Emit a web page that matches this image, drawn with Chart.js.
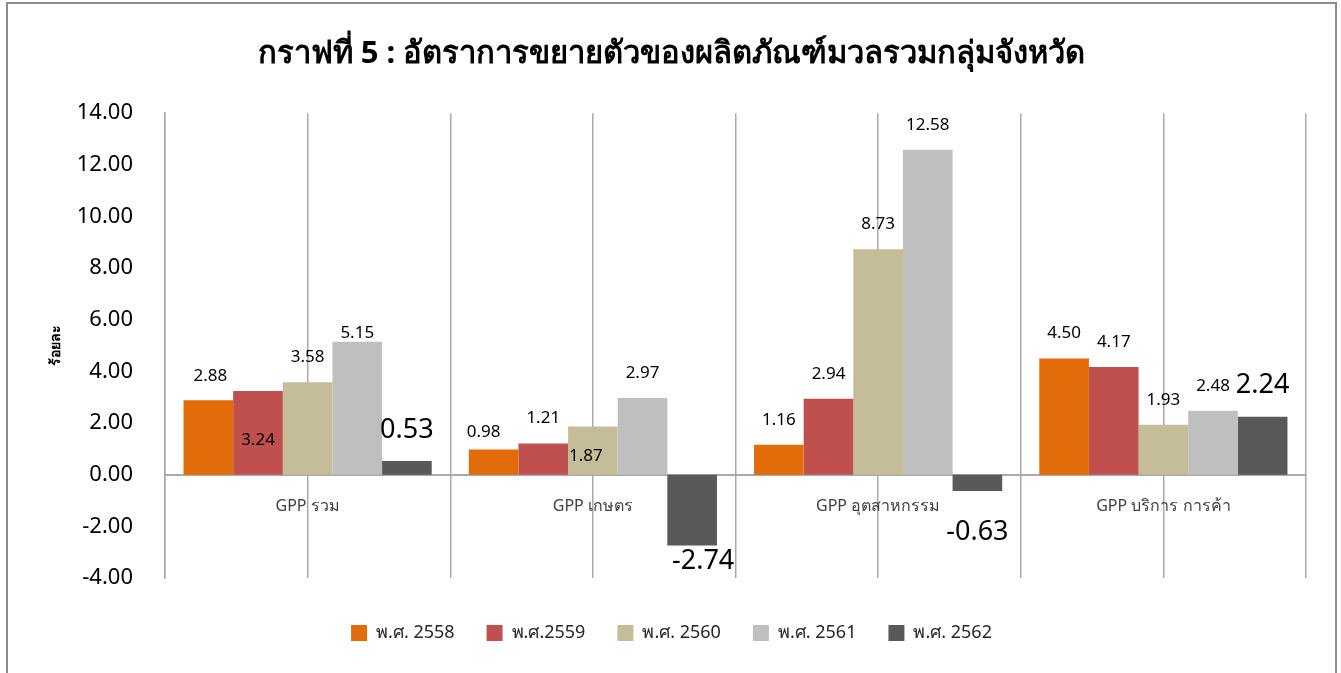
<!DOCTYPE html>
<html lang="th">
<head>
<meta charset="utf-8">
<title>กราฟที่ 5</title>
<script src="https://cdn.jsdelivr.net/npm/chart.js@4.4.1/dist/chart.umd.min.js"></script>
<style>
    html, body { margin: 0; padding: 0; background: #fff; overflow: hidden; }
    #marco { position: absolute; left: 6px; top: 2px; width: 1331px; height: 690px; border: 2px solid #8c8c8c; box-sizing: border-box; }
    #contenedor { position: relative; width: 1327px; height: 668px; }
</style>
</head>
<body>
<div id="marco"><div id="contenedor"><canvas id="canvasGPP"></canvas></div></div>
<script>
const CATEGORIAS = ['GPP รวม', 'GPP เกษตร', 'GPP อุตสาหกรรม', 'GPP บริการ การค้า'];
const ANIOS = ['พ.ศ. 2558', 'พ.ศ.2559', 'พ.ศ. 2560', 'พ.ศ. 2561', 'พ.ศ. 2562'];
const valores2558 = [2.88, 0.98, 1.16, 4.50];
const valores2559 = [3.24, 1.21, 2.94, 4.17];
const valores2560 = [3.58, 1.87, 8.73, 1.93];
const valores2561 = [5.15, 2.97, 12.58, 2.48];
const valores2562 = [0.53, -2.74, -0.63, 2.24];
const COLORES = ['#E36C0A', '#C0504D', '#C4BD97', '#BFBFBF', '#595959'];

const FUENTE = '"Noto Sans", "Open Sans", sans-serif';
const COLOR_REJILLA = '#a9a9a9';

// desplazamientos [dx, dy] de algunas etiquetas, para parecerse al original
const ajusteEtiquetas = {
    '0-0': [2, -24],
    '1-0': [0, 49],
    '3-0': [0, -9],
    '0-1': [-10, -17],
    '2-1': [-7, 30],
    '4-0': [0, -31],
    '4-1': [11, 16],
    '4-2': [0, 41],
    '4-3': [0, -32]
};

const etiquetasValores = {
    id: 'etiquetasValores',
    afterDatasetsDraw(chart) {
        const ctx = chart.ctx;
        ctx.save();
        ctx.textAlign = 'center';
        ctx.textBaseline = 'middle';
        ctx.fillStyle = '#000';
        chart.data.datasets.forEach((ds, i) => {
            const meta = chart.getDatasetMeta(i);
            const grande = i === 4;
            ctx.font = (grande ? '27px ' : '17px ') + FUENTE;
            meta.data.forEach((barra, j) => {
                const ajuste = ajusteEtiquetas[i + '-' + j] || [0, -25];
                ctx.fillText(ds.data[j].toFixed(2), barra.x + ajuste[0], barra.y + ajuste[1]);
            });
        });
        ctx.restore();
    }
};

const datasets = [valores2558, valores2559, valores2560, valores2561, valores2562].map((valores, i) => ({
    label: ANIOS[i],
    data: valores,
    backgroundColor: COLORES[i],
    borderWidth: 0,
    categoryPercentage: 0.87,
    barPercentage: 1
}));

new Chart(document.getElementById('canvasGPP'), {
    type: 'bar',
    data: { labels: CATEGORIAS, datasets: datasets },
    plugins: [etiquetasValores],
    options: {
        responsive: true,
        maintainAspectRatio: false,
        animation: false,
        layout: { padding: { left: 0, right: 0, top: 0, bottom: 20 } },
        plugins: {
            tooltip: { enabled: false },
            title: {
                display: true,
                text: 'กราฟที่ 5 : อัตราการขยายตัวของผลิตภัณฑ์มวลรวมกลุ่มจังหวัด',
                color: '#000',
                font: { family: FUENTE, size: 31, weight: 'bold' },
                padding: { top: 32, bottom: 40 }
            },
            legend: {
                position: 'bottom',
                labels: {
                    color: '#262626',
                    font: { family: FUENTE, size: 18 },
                    boxWidth: 16,
                    boxHeight: 16,
                    padding: 32
                }
            }
        },
        scales: {
            x: {
                position: { y: 0 },
                offset: true,
                grid: { offset: true, color: COLOR_REJILLA, lineWidth: 1.5, drawTicks: false },
                border: { color: COLOR_REJILLA, width: 2 },
                ticks: { color: '#404040', font: { family: FUENTE, size: 16 }, padding: 22 }
            },
            x2: {
                type: 'category',
                labels: CATEGORIAS,
                position: 'bottom',
                offset: true,
                afterFit: (escala) => { escala.height = 14; },
                grid: { offset: false, color: COLOR_REJILLA, lineWidth: 1.5, drawTicks: false },
                border: { display: false },
                ticks: { display: false }
            },
            y: {
                min: -4,
                max: 14,
                afterFit: (escala) => { escala.width = 157; },
                grid: { display: false },
                border: { display: true, color: COLOR_REJILLA, width: 1.5 },
                ticks: {
                    stepSize: 2,
                    color: '#000',
                    padding: 24,
                    font: { family: FUENTE, size: 22 },
                    callback: (v) => v.toFixed(2)
                },
                title: {
                    display: true,
                    text: 'ร้อยละ',
                    color: '#000',
                    font: { family: FUENTE, size: 14, weight: 'bold' },
                    padding: { top: 40 }
                }
            },
            yDerecha: {
                position: 'right',
                min: -4,
                max: 14,
                afterFit: (escala) => { escala.width = 29; },
                grid: { display: false },
                border: { display: false },
                ticks: { display: false }
            }
        }
    }
});
</script>
</body>
</html>
